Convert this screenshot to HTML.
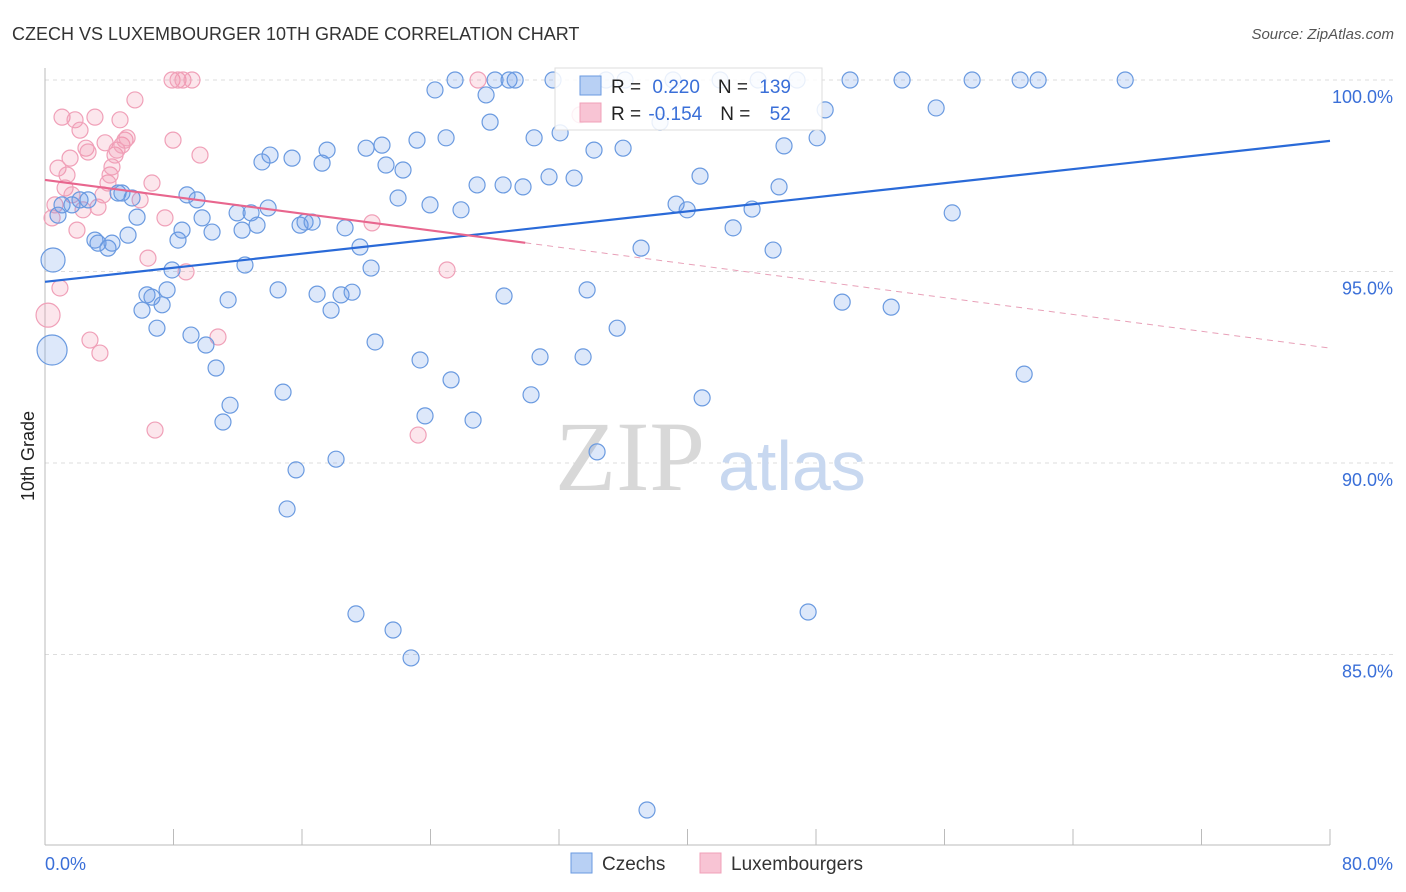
<!DOCTYPE html>
<html><head><meta charset="utf-8"><style>
body{margin:0;background:#fff;font-family:"Liberation Sans",sans-serif}
svg{display:block}
</style></head><body>
<svg id="chart" width="1406" height="892" xmlns="http://www.w3.org/2000/svg">
<text x="12" y="40" font-size="18" fill="#333">CZECH VS LUXEMBOURGER 10TH GRADE CORRELATION CHART</text>
<text x="1394" y="39" font-size="15" fill="#555" text-anchor="end" font-style="italic">Source: ZipAtlas.com</text>
<text x="34" y="456" font-size="18" fill="#222" text-anchor="middle" transform="rotate(-90 34 456)">10th Grade</text>
<g id="grid"></g>
<g id="yticks"></g>
<g id="xaxis"></g>
<text x="555" y="490" font-size="100" fill="#d8d8d8" font-family="Liberation Serif,serif">ZIP</text>
<text x="718" y="490" font-size="70" fill="#c8d8f0">atlas</text>
<g id="pinkPts"></g>
<g id="bluePts"></g>
<g id="trends"></g>
<g>
<rect x="555" y="68" width="267" height="62" fill="#fff" fill-opacity="0.85" stroke="#ddd"/>
<rect x="580" y="76" width="21" height="19" fill="#b8d0f4" stroke="#6a9ae0"/>
<rect x="580" y="103" width="21" height="19" fill="#f8c4d4" stroke="#f0a0b8"/>
<text x="611" y="93" font-size="19" fill="#222">R = <tspan fill="#3a6fd8" dx="6">0.220</tspan><tspan dx="18">N = </tspan><tspan fill="#3a6fd8" dx="6">139</tspan></text>
<text x="611" y="120" font-size="19" fill="#222">R = <tspan fill="#3a6fd8" dx="2">-0.154</tspan><tspan dx="18">N = </tspan><tspan fill="#3a6fd8" dx="14">52</tspan></text>
</g>
<g>
<rect x="571" y="853" width="21" height="20" fill="#b8d0f4" stroke="#6a9ae0"/>
<text x="602" y="870" font-size="19" fill="#333">Czechs</text>
<rect x="700" y="853" width="21" height="20" fill="#f8c4d4" stroke="#f0a0b8"/>
<text x="731" y="870" font-size="19" fill="#333">Luxembourgers</text>
</g>
</svg>
<script>
const czechX=[0.44,0.5,0.81,1.06,1.68,2.18,2.68,3.11,3.3,3.92,4.17,4.55,4.79,5.17,5.42,5.73,6.04,6.35,6.66,6.97,7.29,7.6,7.91,8.28,8.53,8.84,9.09,9.46,9.78,10.02,10.4,10.65,11.4,11.52,11.08,11.96,12.27,12.45,12.83,13.2,13.51,13.89,14.01,14.51,14.82,15.07,15.38,15.63,15.88,16.19,16.63,16.94,17.25,17.56,17.81,18.12,18.43,18.68,19.12,19.36,19.61,19.99,20.3,20.55,20.98,21.23,21.67,21.98,22.29,22.79,23.16,23.35,23.66,23.97,24.28,24.97,25.28,25.53,25.9,26.65,26.9,27.46,27.71,28.02,28.52,28.58,28.89,29.27,29.76,30.26,30.45,30.82,31.38,31.63,32.07,32.94,33.5,33.75,34.18,34.37,34.93,35.62,35.99,36.11,37.11,37.48,38.29,39.1,39.29,39.98,40.78,40.91,42.03,42.84,44.02,44.4,45.33,45.7,46.01,46.82,47.51,48.07,48.57,49.63,50.12,52.68,53.36,55.48,56.48,57.72,60.71,60.96,61.83,67.25];
const czechY=[92.95,95.3,96.47,96.74,96.74,96.87,96.87,95.82,95.74,95.61,95.74,97.05,97.05,95.95,96.92,96.42,93.99,94.39,94.33,93.52,94.13,94.52,95.04,95.82,96.08,97.0,93.34,96.87,96.4,93.08,96.03,92.48,94.26,91.51,91.07,96.53,96.08,95.17,96.53,96.21,97.86,96.66,98.04,94.52,91.85,88.8,97.96,89.82,96.21,96.29,96.29,94.41,97.83,98.17,93.99,90.1,94.39,96.14,94.46,86.06,95.64,98.22,95.09,93.16,98.3,97.78,85.64,96.92,97.65,84.91,98.43,92.69,91.23,96.74,99.74,98.49,92.17,100,96.61,91.12,97.26,99.61,98.9,100,97.26,94.36,100,100,97.21,91.78,98.49,92.77,97.47,100,98.62,97.44,92.77,94.52,98.17,90.29,100,93.52,98.22,100,95.61,80.94,98.9,100,96.76,96.61,97.49,91.7,100,96.14,96.63,100,95.56,97.21,98.28,100,86.11,98.49,99.22,94.2,100,94.07,100,99.27,96.53,100,100,92.32,100,100];
const czechBig=[15,12];
const luxX=[0.19,0.44,0.62,0.81,0.93,1.06,1.25,1.37,1.56,1.68,1.87,1.99,2.18,2.37,2.55,2.68,2.8,3.11,3.3,3.42,3.61,3.74,3.92,4.05,4.17,4.36,4.48,4.67,4.79,4.98,5.11,5.6,5.92,6.41,6.66,6.85,7.47,7.91,7.97,8.28,8.59,8.78,9.15,9.65,10.77,20.36,23.23,25.03,26.96,33.31];
const luxY=[93.86,96.4,96.74,97.7,94.57,99.03,97.18,97.52,97.96,97.0,98.96,96.08,98.69,96.61,98.22,98.12,93.21,99.03,96.68,92.87,97.0,98.36,97.31,97.52,97.73,98.04,98.17,98.96,98.3,98.43,98.49,99.48,96.87,95.35,97.31,90.86,96.4,100,98.43,100,100,94.99,100,98.04,93.29,96.27,90.73,95.04,100,99.09];
const luxBig=[12];
const yTicks=[100,95,90,85];
const yTickLabels=["100.0%","95.0%","90.0%","85.0%"];
const xTicks=[0,8,16,24,32,40,48,56,64,72,80];
const czechTrend=[94.73,98.41];
const luxTrend=[97.39,93.0];
const luxSolidEnd=29.9;

const NS="http://www.w3.org/2000/svg";
const sx=v=>45+v*(1285/80);
const sy=v=>80+(100-v)*38.3;
function mk(tag,attrs,parent){const e=document.createElementNS(NS,tag);for(const k in attrs)e.setAttribute(k,attrs[k]);parent.appendChild(e);return e;}
const grid=document.getElementById('grid'),yt=document.getElementById('yticks'),xa=document.getElementById('xaxis');
yTicks.forEach((t,i)=>{
 const l=mk('line',{x1:45,x2:1395,y1:sy(t),y2:sy(t),stroke:'#ddd','stroke-dasharray':'4,4'},grid);
 
 
 const tx=mk('text',{x:1393,y:sy(t)+23,'font-size':18,fill:'#3a6fd8','text-anchor':'end'},yt);
 tx.textContent=yTickLabels[i];
 
 
});
const ax=mk('line',{x1:45,x2:45,y1:68,y2:845,stroke:'#bbb'},xa);


const bx=mk('line',{x1:45,x2:1330,y1:845,y2:845,stroke:'#bbb'},xa);


xTicks.forEach(t=>{
 const k=mk('line',{x1:sx(t),x2:sx(t),y1:829,y2:845,stroke:'#bbb'},xa);
 
 
});
const x0=mk('text',{x:45,y:870,'font-size':18,fill:'#3a6fd8'},xa);x0.textContent='0.0%';


const x1=mk('text',{x:1393,y:870,'font-size':18,fill:'#3a6fd8','text-anchor':'end'},xa);x1.textContent='80.0%';



const pp=document.getElementById('pinkPts');
luxX.forEach((x,i)=>{
 const c=mk('circle',{cx:sx(x),cy:sy(luxY[i]),r:luxBig[i]||8,fill:'rgba(240,140,170,0.22)',stroke:'#f0a0b8','stroke-width':1.2},pp);
 
 
});
const bp=document.getElementById('bluePts');
czechX.forEach((x,i)=>{
 const c=mk('circle',{cx:sx(x),cy:sy(czechY[i]),r:czechBig[i]||8,fill:'rgba(100,150,230,0.22)',stroke:'#6a9ae0','stroke-width':1.2},bp);
 
 
});
const tr=document.getElementById('trends');
const bl=mk('line',{x1:sx(0),y1:sy(czechTrend[0]),x2:sx(80),y2:sy(czechTrend[1]),stroke:'#2a6ad8','stroke-width':2.2},tr);


const py=x=>luxTrend[0]+(luxTrend[1]-luxTrend[0])*x/80;
const pl=mk('line',{x1:sx(0),y1:sy(py(0)),x2:sx(luxSolidEnd),y2:sy(py(luxSolidEnd)),stroke:'#e8668e','stroke-width':2.2},tr);


const pd=mk('line',{x1:sx(luxSolidEnd),y1:sy(py(luxSolidEnd)),x2:sx(80),y2:sy(py(80)),stroke:'#e8a0b8','stroke-width':1,'stroke-dasharray':'6,5'},tr);


</script>
</body></html>
